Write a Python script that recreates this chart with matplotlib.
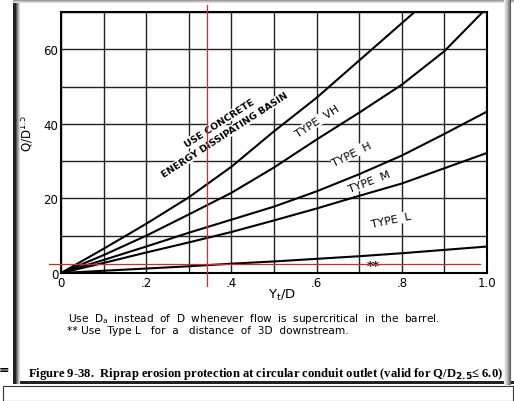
import matplotlib.pyplot as plt
from matplotlib.patches import Rectangle
from matplotlib.lines import Line2D

# readings (Yt/D vs Q/D^1.5 for each riprap type)
x_pts = [0, 0.1, 0.2, 0.3, 0.4, 0.5, 0.6, 0.7, 0.8, 0.9, 1.0]
type_vh_x = [0, 0.1, 0.2, 0.3, 0.4, 0.5, 0.6, 0.7, 0.8, 0.83]
type_vh = [0, 6.5, 13.2, 20.3, 28.5, 38.0, 47.0, 57.0, 67.0, 70.0]
type_h_x = [0, 0.1, 0.2, 0.3, 0.4, 0.5, 0.6, 0.7, 0.8, 0.9, 0.99]
type_h = [0, 4.8, 10.0, 15.7, 21.5, 28.3, 35.8, 43.0, 50.5, 59.5, 70.0]
type_m = [0, 3.5, 7.1, 10.8, 14.3, 17.8, 21.9, 26.5, 31.5, 37.3, 43.3]
type_l = [0, 2.7, 5.5, 8.2, 11.0, 14.1, 17.3, 20.7, 24.0, 28.1, 32.2]
type_ll = [0, 0.6, 1.2, 1.8, 2.5, 3.1, 3.8, 4.5, 5.3, 6.2, 7.1]

# red marker lines drawn over the scan
red_x = 0.343
red_y = 2.4

x_ticks = [0, 0.2, 0.4, 0.6, 0.8, 1.0]
x_ticklabels = ['0', '.2', '.4', '.6', '.8', '1.0']
y_ticks = [0, 20, 40, 60]

fig = plt.figure(figsize=(5.14, 4.02), dpi=100)
ax = fig.add_axes([0.1187, 0.3184, 0.8288, 0.6493])

ax.set_xlim(0, 1.0)
ax.set_ylim(0, 70)
ax.set_xticks([i / 10 for i in range(11)], minor=True)
ax.set_yticks(range(0, 71, 10), minor=True)
ax.set_xticks(x_ticks)
ax.set_xticklabels(x_ticklabels, fontsize=8.5)
ax.set_yticks(y_ticks)
ax.set_yticklabels([str(v) for v in y_ticks], fontsize=8.5)
ax.tick_params(which='both', length=0, pad=2)
ax.grid(True, which='both', color='#222222', lw=1.0)
ax.set_axisbelow(True)
for s in ax.spines.values():
    s.set_linewidth(1.5)

lw = 1.5
ax.plot(type_vh_x, type_vh, color='black', lw=lw)
ax.plot(type_h_x, type_h, color='black', lw=lw)
ax.plot(x_pts, type_m, color='black', lw=lw)
ax.plot(x_pts, type_l, color='black', lw=lw)
ax.plot(x_pts, type_ll, color='black', lw=lw)

box = dict(facecolor='white', edgecolor='none', pad=0.5)
ax.text(0.372, 40.3, 'USE CONCRETE', rotation=33, rotation_mode='anchor',
        ha='center', va='center', fontsize=6.8, fontweight='bold', bbox=box)
ax.text(0.386, 37.2, 'ENERGY DISSIPATING BASIN', rotation=33, rotation_mode='anchor',
        ha='center', va='center', fontsize=6.8, fontweight='bold', bbox=box)
ax.text(0.602, 40.8, 'TYPE  VH', rotation=33, rotation_mode='anchor',
        ha='center', va='center', fontsize=8, bbox=box)
ax.text(0.682, 32.0, 'TYPE  H', rotation=26, rotation_mode='anchor',
        ha='center', va='center', fontsize=8, bbox=box)
ax.text(0.725, 24.6, 'TYPE  M', rotation=21, rotation_mode='anchor',
        ha='center', va='center', fontsize=8, bbox=box)
ax.text(0.775, 14.2, 'TYPE  L', rotation=12, rotation_mode='anchor',
        ha='center', va='center', fontsize=8, bbox=box)
ax.text(0.732, 2.0, '**', ha='center', va='center', fontsize=9, fontweight='bold')

ax.plot([red_x, red_x], [-3.5, 72], color='#d42a2a', lw=0.9, clip_on=False, zorder=4)
ax.plot([-0.028, 0.984], [red_y, red_y], color='#d42a2a', lw=0.9, clip_on=False, zorder=4)

ax.text(0.52, -5.8, r'Y$_\mathrm{t}$/D', ha='center', va='center', fontsize=9.5)
ax.text(-0.08, 37.6, r'Q/D$^{1.5}$', rotation=90, ha='center', va='center', fontsize=8.5)

fig.text(0.132, 0.2065, r'Use  D$_\mathrm{a}$  instead  of  D  whenever  flow  is  supercritical  in  the  barrel.',
         fontsize=7.6, va='center')
fig.text(0.130, 0.1766, '** Use  Type L   for  a   distance  of  3D  downstream.',
         fontsize=7.6, va='center')
fig.text(0.0545, 0.0697,
         'Figure 9-38.  Riprap erosion protection at circular conduit outlet (valid for Q/D$_{\\mathbf{2.5}}$\u2264 6.0)',
         fontsize=9.1, fontweight='bold', va='center', family=['Liberation Serif', 'DejaVu Serif'])

# scan frame and shadows
def fx(px):
    return px / 514

def fy(py):
    return 1 - py / 402

fig.add_artist(Rectangle((fx(13), fy(385)), fx(3), fy(0) - fy(385), transform=fig.transFigure,
                         color='#222222', lw=0))
for i, c in enumerate(['#555555', '#888888', '#b0b0b0', '#d8d8d8']):
    fig.add_artist(Line2D([fx(16 + i), fx(16 + i)], [fy(384), fy(0)], transform=fig.transFigure, color=c, lw=0.8))
fig.add_artist(Rectangle((fx(13), fy(385)), fx(501), fy(382) - fy(385), transform=fig.transFigure,
                         color='#222222', lw=0))
for i, c in enumerate(['#999999', '#c0c0c0', '#dddddd']):
    fig.add_artist(Line2D([fx(13), fx(514)], [fy(i + 0.5), fy(i + 0.5)], transform=fig.transFigure, color=c, lw=0.8))
for i, c in enumerate(['#f0f0f0', '#e0e0e0', '#cccccc', '#b5b5b5', '#9a9a9a', '#808080', '#606060']):
    fig.add_artist(Line2D([fx(504 + i), fx(504 + i)], [fy(385), fy(0)], transform=fig.transFigure, color=c, lw=0.8))
fig.add_artist(Rectangle((fx(3), fy(402) + 0.001), fx(510), fy(387) - fy(402), transform=fig.transFigure,
                         facecolor='none', edgecolor='#333333', lw=0.8))
fig.text(fx(4), fy(371), '=', fontsize=9, fontweight='bold', ha='center', va='center')

fig.savefig('out.png', dpi=100)
